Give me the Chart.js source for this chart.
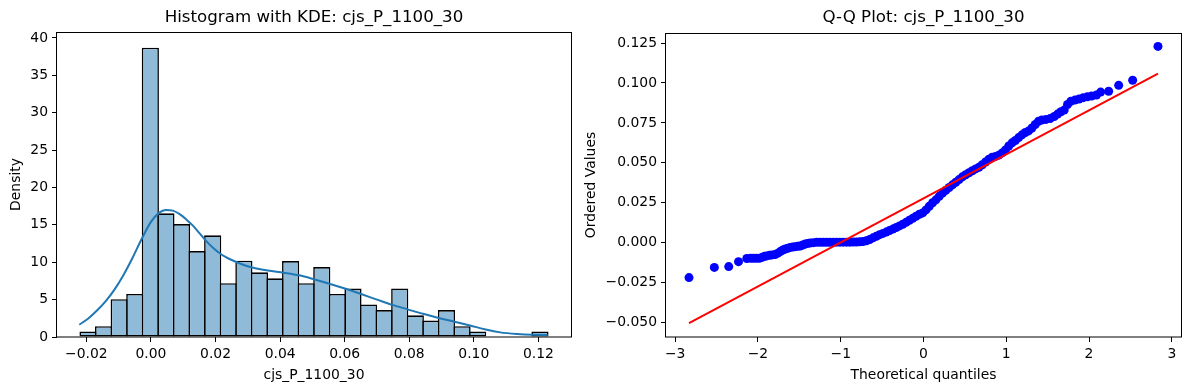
<!DOCTYPE html>
<html>
<head>
<meta charset="utf-8">
<script src="https://cdn.jsdelivr.net/npm/chart.js@4.4.1/dist/chart.umd.min.js"></script>
<style>
  html, body { margin: 0; padding: 0; background: #fff; }
  #wrap { position: relative; width: 1189px; height: 390px; }
  canvas { position: absolute; top: 0; }
  #hist { left: 0; }
  #qq { left: 580px; }
</style>
</head>
<body>
<div id="wrap">
  <canvas id="hist" width="580" height="390"></canvas>
  <canvas id="qq" width="609" height="390"></canvas>
</div>
<script>
// Histogram: bin centres and density
const histCenters = [
  -0.01949, -0.01467, -0.00984, -0.00501, -0.00019, 0.00464, 0.00947, 0.01430, 0.01912, 0.02395,
  0.02878, 0.03360, 0.03843, 0.04326, 0.04809, 0.05291, 0.05774, 0.06257, 0.06740, 0.07222,
  0.07705, 0.08188, 0.08670, 0.09153, 0.09636, 0.10119, 0.10601, 0.11084, 0.11567, 0.12049
];
const histDensity = [
  0.75, 1.45, 5.05, 5.75, 38.7, 16.55, 15.1, 11.5, 13.6, 7.2,
  10.2, 8.65, 7.85, 10.15, 7.2, 9.35, 5.75, 6.5, 4.35, 3.6,
  6.5, 2.9, 2.2, 3.6, 1.45, 0.75, 0, 0, 0, 0.75
];
// KDE curve
const kdeX = [
  -0.0222, -0.0195, -0.0168, -0.0140, -0.0112, -0.0085, -0.0058, -0.0030, 0.0000, 0.0025,
  0.0045, 0.0068, 0.0090, 0.0110, 0.0130, 0.0150, 0.0170, 0.0193, 0.0216, 0.0240,
  0.0266, 0.0290, 0.0314, 0.0362, 0.0411, 0.0459, 0.0507, 0.0555, 0.0603, 0.0651,
  0.0700, 0.0747, 0.0795, 0.0843, 0.0891, 0.0940, 0.0988, 0.1037, 0.1082, 0.1134,
  0.1180, 0.1229
];
const kdeY = [
  1.64, 2.45, 3.5, 4.8, 6.4, 8.3, 10.5, 13.0, 15.4, 16.6,
  17.0, 16.9, 16.4, 15.7, 14.9, 13.9, 12.9, 11.9, 11.1, 10.5,
  10.0, 9.6, 9.3, 8.9, 8.6, 8.25, 7.7, 7.1, 6.45, 5.75,
  5.0, 4.3, 3.7, 3.1, 2.55, 2.05, 1.55, 1.0, 0.62, 0.4,
  0.3, 0.28
];
const histXTicks = [-0.02, 0.00, 0.02, 0.04, 0.06, 0.08, 0.10, 0.12];
const histYTicks = [0, 5, 10, 15, 20, 25, 30, 35, 40];

// Q-Q plot: theoretical quantiles vs ordered values
const qqX = [
  -2.833, -2.527, -2.353, -2.235, -2.135, -2.09, -2.055, -2.02, -1.983, -1.95,
  -1.92, -1.894, -1.86, -1.83, -1.793, -1.76, -1.73, -1.70, -1.67, -1.64,
  -1.61, -1.58, -1.55, -1.52, -1.49, -1.46, -1.43, -1.40, -1.37, -1.33,
  -1.29, -1.25, -1.21, -1.17, -1.13, -1.09, -1.05, -1.01, -0.97, -0.93,
  -0.89, -0.85, -0.81, -0.77, -0.73, -0.69, -0.65, -0.61, -0.57, -0.53,
  -0.49, -0.45, -0.41, -0.37, -0.33, -0.29, -0.25, -0.21, -0.17, -0.13,
  -0.09, -0.05, -0.01, 0.03, 0.07, 0.11, 0.15, 0.19, 0.23, 0.27,
  0.31, 0.35, 0.39, 0.43, 0.47, 0.51, 0.55, 0.59, 0.63, 0.67,
  0.71, 0.75, 0.79, 0.83, 0.87, 0.91, 0.95, 0.99, 1.03, 1.07,
  1.11, 1.15, 1.19, 1.23, 1.27, 1.31, 1.35, 1.39, 1.43, 1.48,
  1.53, 1.58, 1.62, 1.66, 1.70, 1.74, 1.78, 1.83, 1.88, 1.93,
  1.98, 2.03, 2.09, 2.14, 2.237, 2.358, 2.527, 2.833
];
const qqY = [
  -0.0219, -0.0155, -0.0150, -0.0119, -0.0099, -0.0098, -0.0098, -0.0098, -0.0098, -0.0092,
  -0.0086, -0.0083, -0.0079, -0.0077, -0.0074, -0.0066, -0.0056, -0.0046, -0.0040, -0.0035,
  -0.0030, -0.0027, -0.0025, -0.0023, -0.0021, -0.0015, -0.0009, -0.0005, -0.0002, 0.0000,
  0.0002, 0.0002, 0.0002, 0.0002, 0.0002, 0.0002, 0.0003, 0.0003, 0.0003, 0.0003,
  0.0003, 0.0004, 0.0004, 0.0005, 0.0007, 0.0012, 0.0020, 0.0030, 0.0040, 0.0050,
  0.0058, 0.0066, 0.0076, 0.0085, 0.0095, 0.0105, 0.0115, 0.0127, 0.0140, 0.0152,
  0.0165, 0.0178, 0.0186, 0.0205, 0.0228, 0.0250, 0.0268, 0.0290, 0.0310, 0.0328,
  0.0345, 0.0362, 0.0378, 0.0395, 0.0412, 0.0425, 0.0438, 0.0450, 0.0462, 0.0472,
  0.0488, 0.0505, 0.0522, 0.0535, 0.0540, 0.0548, 0.0562, 0.0580, 0.0605, 0.0625,
  0.0640, 0.0658, 0.0675, 0.0690, 0.0700, 0.0718, 0.0740, 0.0760, 0.0768, 0.0772,
  0.0777, 0.0790, 0.0805, 0.0820, 0.0830, 0.0865, 0.0885, 0.0893, 0.0900, 0.0908,
  0.0913, 0.0918, 0.0925, 0.0943, 0.0948, 0.0985, 0.1017, 0.1229
];
// fitted line end points
const qqLineX = [-2.833, 2.833];
const qqLineY = [-0.0504, 0.1058];
const qqXTicks = [-3, -2, -1, 0, 1, 2, 3];
const qqYTicks = [-0.050, -0.025, 0.000, 0.025, 0.050, 0.075, 0.100, 0.125];

const FONT = 'DejaVu Sans';
const minus = s => s.replace('-', '\u2212');

// black box around the plot area (matplotlib spines)
const framePlugin = {
  id: 'frame',
  afterDraw(chart) {
    const { ctx, chartArea: a } = chart;
    ctx.save();
    ctx.strokeStyle = '#000';
    ctx.lineWidth = 1;
    ctx.strokeRect(Math.round(a.left) - 0.5, Math.round(a.top) + 0.5,
      Math.round(a.right - a.left) + 1, Math.round(a.bottom - a.top) - 0.5);
    ctx.restore();
  }
};

function axisOpts(cfg) {
  return {
    type: 'linear',
    min: cfg.min,
    max: cfg.max,
    offset: false,
    afterBuildTicks: s => { s.ticks = cfg.ticks.map(v => ({ value: v })); },
    afterFit: s => { if (cfg.width) s.width = cfg.width; if (cfg.height) s.height = cfg.height; },
    grid: {
      display: true, offset: false, drawOnChartArea: false, drawTicks: true,
      tickLength: 5, color: '#000', lineWidth: 1
    },
    border: { display: false },
    ticks: {
      color: '#000', padding: 4, maxRotation: 0, autoSkip: false,
      font: { family: FONT, size: 13.9 },
      callback: cfg.fmt
    },
    title: {
      display: true, text: cfg.title, color: '#000',
      font: { family: FONT, size: 13.9 },
      padding: cfg.titlePad
    }
  };
}

function titleOpts(text, bottom) {
  return {
    display: true, text: text, color: '#000', fullSize: false,
    font: { family: FONT, size: 16.67, weight: 'normal' },
    padding: { top: 8, bottom: bottom }
  };
}

new Chart(document.getElementById('hist'), {
  type: 'bar',
  data: {
    datasets: [{
      type: 'line',
      data: kdeX.map((x, i) => ({ x: x, y: kdeY[i] })),
      borderColor: '#1f77b4',
      borderWidth: 2,
      pointRadius: 0,
      cubicInterpolationMode: 'monotone',
      order: 1
    }, {
      type: 'bar',
      data: histCenters.map((x, i) => ({ x: x, y: histDensity[i] })),
      backgroundColor: '#8fbbd9',
      borderColor: '#000',
      borderWidth: 1.6,
      borderSkipped: false,
      barPercentage: 1.103,
      categoryPercentage: 1,
      order: 2
    }]
  },
  options: {
    responsive: false,
    animation: false,
    devicePixelRatio: 1,
    layout: { padding: { left: 0, right: 9, top: 0, bottom: 0 } },
    plugins: {
      legend: { display: false },
      tooltip: { enabled: false },
      title: titleOpts('Histogram with KDE: cjs_P_1100_30', 4)
    },
    scales: {
      x: axisOpts({
        min: -0.0291, max: 0.1301, ticks: histXTicks, height: 53,
        fmt: v => minus(v.toFixed(2)),
        title: 'cjs_P_1100_30', titlePad: { top: 0, bottom: 6.5 }
      }),
      y: axisOpts({
        min: 0, max: 40.8, ticks: histYTicks, width: 57,
        fmt: v => minus(String(v)),
        title: 'Density', titlePad: { top: 8.3, bottom: 0 }
      })
    }
  },
  plugins: [framePlugin]
});

new Chart(document.getElementById('qq'), {
  type: 'scatter',
  data: {
    datasets: [{
      type: 'line',
      data: qqLineX.map((x, i) => ({ x: x, y: qqLineY[i] })),
      borderColor: '#ff0000',
      borderWidth: 2,
      pointRadius: 0,
      showLine: true,
      order: 1
    }, {
      data: qqX.map((x, i) => ({ x: x, y: qqY[i] })),
      backgroundColor: '#0000ff',
      borderWidth: 0,
      pointRadius: 4.5,
      order: 2
    }]
  },
  options: {
    responsive: false,
    animation: false,
    devicePixelRatio: 1,
    layout: { padding: { left: 0, right: 8, top: 0, bottom: 0 } },
    plugins: {
      legend: { display: false },
      tooltip: { enabled: false },
      title: titleOpts('Q-Q Plot: cjs_P_1100_30', 5)
    },
    scales: {
      x: axisOpts({
        min: -3.111, max: 3.111, ticks: qqXTicks, height: 53,
        fmt: v => minus(String(v)),
        title: 'Theoretical quantiles', titlePad: { top: 0, bottom: 6.5 }
      }),
      y: axisOpts({
        min: -0.0591, max: 0.1313, ticks: qqYTicks, width: 86,
        fmt: v => minus(v.toFixed(3)),
        title: 'Ordered Values', titlePad: { top: 3.4, bottom: 0 }
      })
    }
  },
  plugins: [framePlugin]
});
</script>
</body>
</html>
